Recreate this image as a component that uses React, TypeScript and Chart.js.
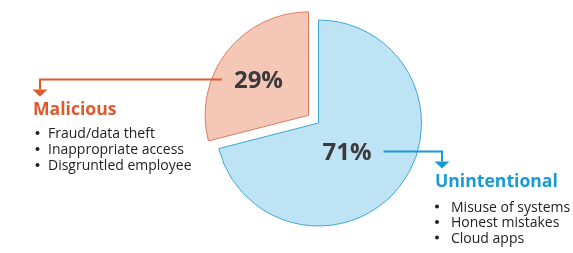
import React, { useEffect, useRef } from "react";
import { Chart, registerables } from "chart.js";

Chart.register(...registerables);

const categories = ["Unintentional", "Malicious"];
const values = [71, 29];
const percentLabels = ["71%", "29%"];
const bullets = [
  ["Misuse of systems", "Honest mistakes", "Cloud apps"],
  ["Fraud/data theft", "Inappropriate access", "Disgruntled employee"],
];

const fillColors = ["#bee3f5", "#f5c7b7"];
const borderColors = ["#3fa6d8", "#e07a5c"];
const accentColors = ["#1b9ad6", "#e0592d"];
// desired visual displacement (px) of each slice
const sliceShift = [0, 13];

// label placement: fraction of slice angle, fraction of radius
const labelPlace = [
  { af: 0.53, rf: 0.395 },
  { af: 0.473, rf: 0.59 },
];
// callout layout
const callouts = [
  { side: 1, cornerX: 442, headX: 435, headY: 187, dotX: 437, textX: 451, firstY: 211.5, step: 15.5 },
  { side: -1, cornerX: 40, headX: 33, headY: 115, dotX: 37.5, textX: 48, firstY: 138, step: 16 },
];

const FONT = '"Open Sans", "Noto Sans", sans-serif';

// Chart.js arc translation = offset/4 * (1 + fix), fix = 1 - sin(min(PI, circumference))
function toOptionOffset(shift: number, fraction: number) {
  const circ = fraction * Math.PI * 2;
  const fix = 1 - Math.sin(Math.min(Math.PI, circ));
  return (shift * 4) / (1 + fix);
}
const total = values.reduce((a, b) => a + b, 0);
const optionOffsets = values.map((v, i) => toOptionOffset(sliceShift[i], v / total));

const overlayPlugin = {
  id: "overlay",
  afterDraw(chart: any) {
    const ctx = chart.ctx as CanvasRenderingContext2D;
    const meta = chart.getDatasetMeta(0);
    meta.data.forEach((arc: any, i: number) => {
      const p = arc.getProps(["x", "y", "startAngle", "endAngle", "outerRadius"], true);
      const mid = (p.startAngle + p.endAngle) / 2;
      const off = sliceShift[i];
      const cx = p.x + Math.cos(mid) * off;
      const cy = p.y + Math.sin(mid) * off;
      const la = p.startAngle + (p.endAngle - p.startAngle) * labelPlace[i].af;
      const lx = cx + Math.cos(la) * p.outerRadius * labelPlace[i].rf;
      const ly = cy + Math.sin(la) * p.outerRadius * labelPlace[i].rf;

      ctx.save();
      ctx.font = `bold 24px ${FONT}`;
      ctx.fillStyle = "#3b3b3b";
      ctx.textAlign = "center";
      ctx.textBaseline = "middle";
      ctx.fillText(percentLabels[i], lx, ly + 1);
      const w = ctx.measureText(percentLabels[i]).width;

      const c = callouts[i];
      const color = accentColors[i];
      const startX = lx + c.side * (w / 2 + 12);
      const lineY = Math.round(ly) - 0.5;
      const headTip = c.headY - 18.5;
      const triH = 7;
      ctx.strokeStyle = color;
      ctx.lineWidth = 2;
      ctx.beginPath();
      ctx.moveTo(startX, lineY);
      ctx.lineTo(c.cornerX, lineY);
      ctx.lineTo(c.cornerX, headTip - triH);
      ctx.stroke();
      ctx.fillStyle = color;
      ctx.beginPath();
      ctx.moveTo(c.cornerX - 7.5, headTip - triH);
      ctx.lineTo(c.cornerX + 7.5, headTip - triH);
      ctx.lineTo(c.cornerX, headTip);
      ctx.closePath();
      ctx.fill();

      ctx.textAlign = "left";
      ctx.textBaseline = "alphabetic";
      ctx.font = `bold 17.6px ${FONT}`;
      ctx.fillText(categories[i], c.headX, c.headY);

      ctx.font = `14px ${FONT}`;
      ctx.fillStyle = "#222222";
      bullets[i].forEach((b, k) => {
        const by = c.firstY + k * c.step;
        ctx.beginPath();
        ctx.arc(c.dotX, by - 5, 2, 0, Math.PI * 2);
        ctx.fill();
        ctx.fillText(b, c.textX, by);
      });
      ctx.restore();
    });
  },
};

export default function App() {
  const ref = useRef<HTMLCanvasElement>(null);
  useEffect(() => {
    if (!ref.current) return;
    const chart = new Chart(ref.current, {
      type: "pie",
      data: {
        labels: categories,
        datasets: [
          {
            data: values,
            backgroundColor: fillColors,
            borderColor: borderColors,
            borderWidth: 1,
            offset: optionOffsets,
            hoverOffset: 0,
          },
        ],
      },
      options: {
        animation: false,
        responsive: false,
        devicePixelRatio: 1,
        radius: 103,
        layout: { padding: { left: 64, right: 0, top: 0, bottom: 7 } },
        plugins: {
          legend: { display: false },
          tooltip: { enabled: false },
        },
        events: [],
      } as any,
      plugins: [overlayPlugin],
    });
    if ((document as any).fonts) {
      (document as any).fonts.ready.then(() => chart.draw());
    }
    return () => chart.destroy();
  }, []);
  return (
    <div style={{ position: "fixed", left: 0, top: 0, width: 573, height: 253, background: "#fff" }}>
      <canvas ref={ref} width={573} height={253} style={{ display: "block" }} />
    </div>
  );
}
